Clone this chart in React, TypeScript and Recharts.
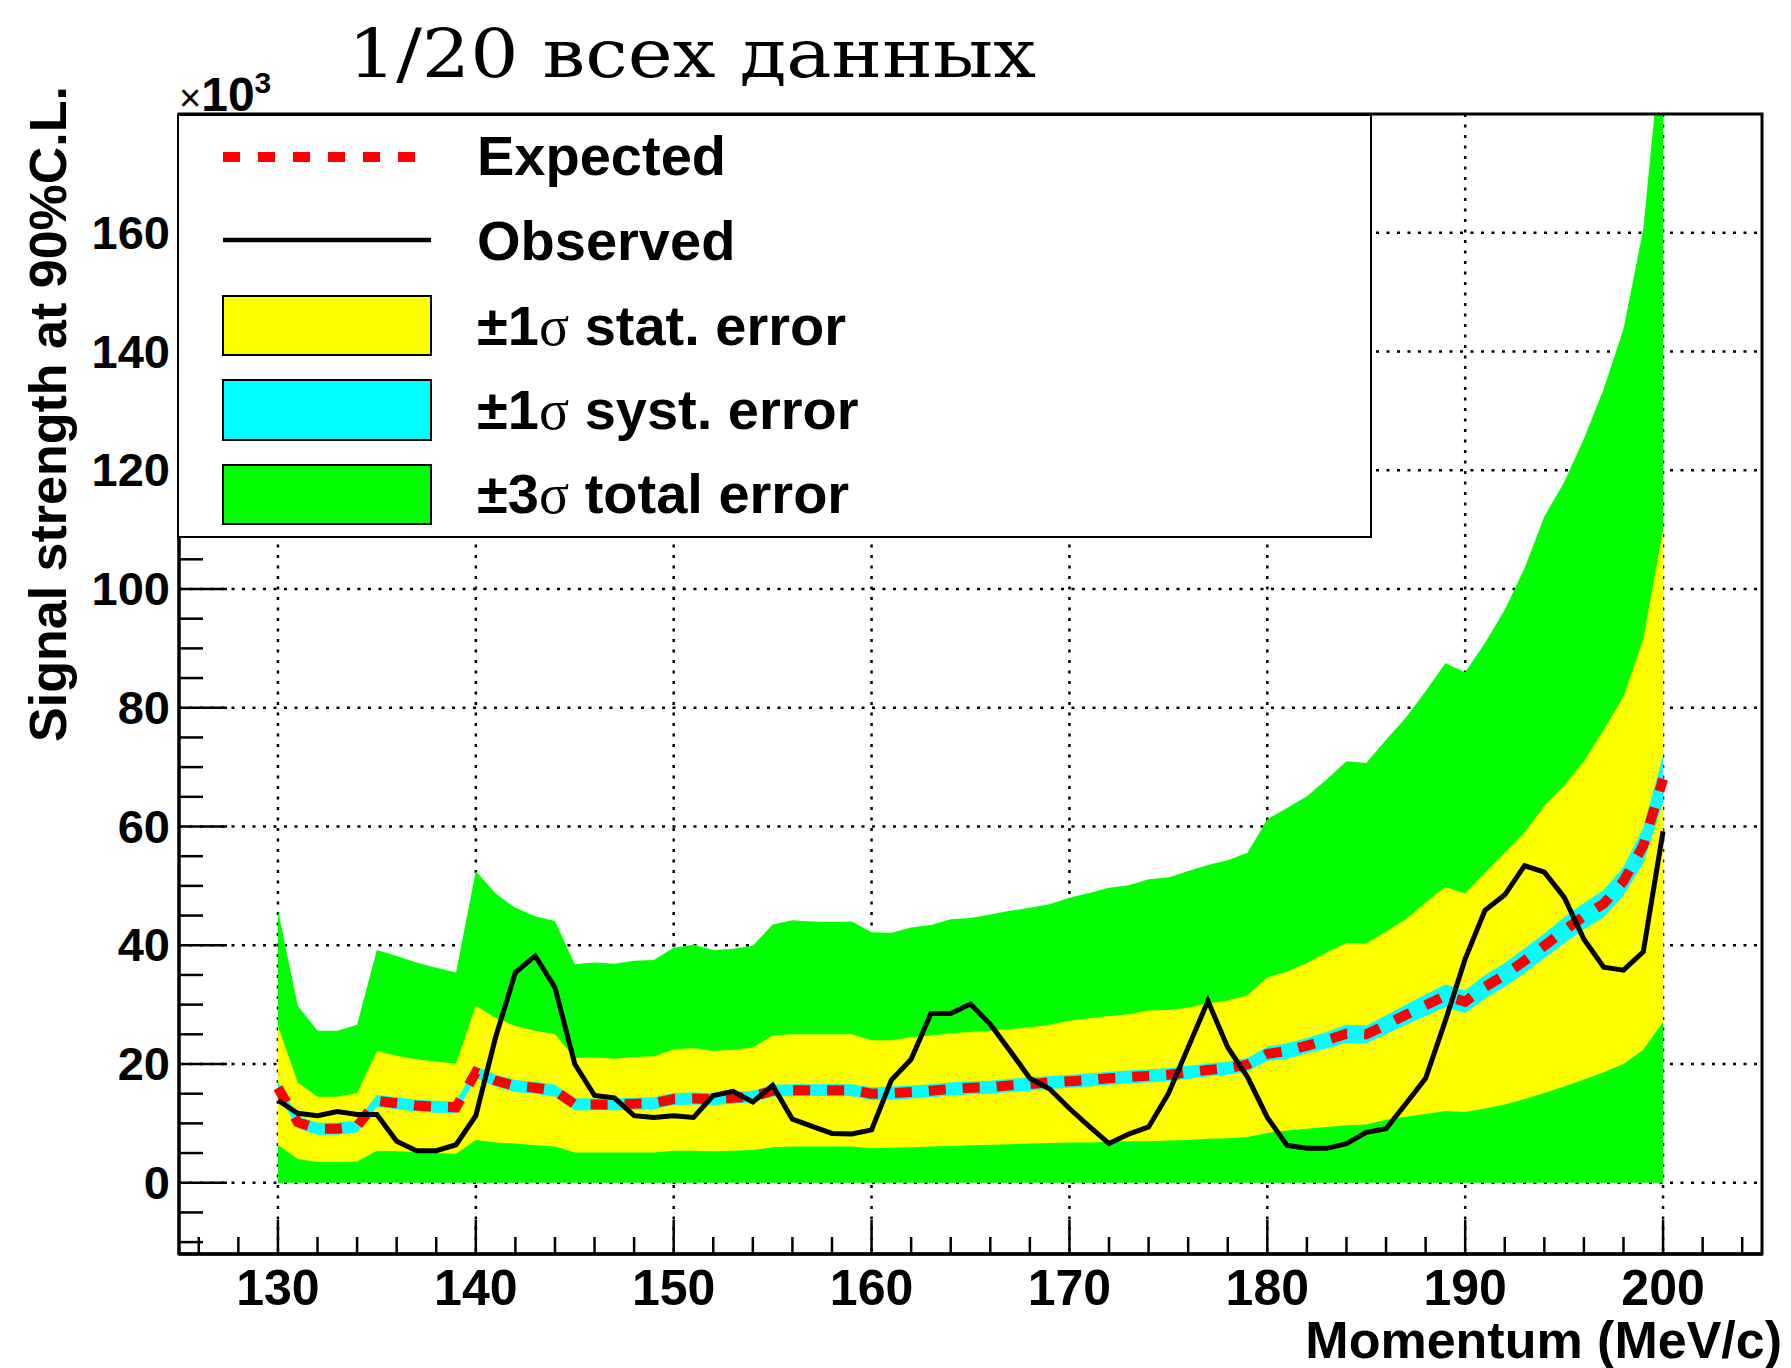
import React from "react";
import { ComposedChart, Area, Line, XAxis, YAxis, CartesianGrid, Legend, ReferenceArea } from "recharts";

// momentum points, MeV/c
const momentum = [
  130, 131, 132, 133, 134, 135, 136, 137, 138, 139,
  140, 141, 142, 143, 144, 145, 146, 147, 148, 149,
  150, 151, 152, 153, 154, 155, 156, 157, 158, 159,
  160, 161, 162, 163, 164, 165, 166, 167, 168, 169,
  170, 171, 172, 173, 174, 175, 176, 177, 178, 179,
  180, 181, 182, 183, 184, 185, 186, 187, 188, 189,
  190, 191, 192, 193, 194, 195, 196, 197, 198, 199,
  200,
];

// all values x10^3
const totalUp = [
  46.0, 29.8, 25.6, 25.6, 26.6, 39.2, 38.2, 37.1, 36.2, 35.4,
  52.5, 48.7, 46.3, 44.9, 44.1, 36.8, 37.1, 36.9, 37.4, 37.5,
  39.6, 40.1, 39.2, 39.4, 39.9, 43.5, 44.2, 44.0, 43.9, 44.0,
  42.2, 42.1, 43.0, 43.4, 44.4, 44.6, 45.2, 45.8, 46.3, 46.9,
  48.0, 48.8, 49.7, 50.1, 51.1, 51.4, 52.5, 53.5, 54.3, 55.6,
  61.2, 63.1, 65.1, 67.9, 71.0, 70.7, 74.6, 78.3, 82.8, 87.5,
  86.0, 90.9, 96.5, 103.5, 112.2, 118.0, 125.3, 133.7, 143.8, 160.6,
  195.0,
];

const statUp = [
  26.4, 16.9, 14.5, 14.5, 15.1, 22.2, 21.4, 20.8, 20.4, 20.1,
  29.8, 27.8, 26.4, 25.6, 25.0, 21.0, 21.1, 20.9, 21.2, 21.3,
  22.5, 22.7, 22.2, 22.4, 22.8, 24.8, 25.0, 25.0, 25.0, 25.0,
  24.0, 24.0, 24.5, 24.8, 25.2, 25.4, 25.6, 25.9, 26.2, 26.6,
  27.3, 27.7, 28.1, 28.4, 29.0, 29.1, 29.5, 30.2, 30.7, 31.6,
  34.6, 35.6, 37.0, 38.8, 40.4, 40.3, 42.3, 44.4, 47.2, 49.8,
  48.7, 52.2, 55.6, 59.0, 63.5, 66.9, 71.0, 76.3, 81.9, 91.6,
  110.0,
];

const statLo = [
  6.4, 4.0, 3.5, 3.5, 3.6, 5.4, 5.3, 5.2, 5.0, 4.9,
  7.2, 6.8, 6.6, 6.3, 6.1, 5.1, 5.1, 5.1, 5.1, 5.1,
  5.4, 5.4, 5.3, 5.4, 5.5, 6.0, 6.1, 6.1, 6.1, 6.1,
  5.8, 5.9, 6.0, 6.1, 6.2, 6.3, 6.4, 6.5, 6.6, 6.7,
  6.8, 6.8, 6.9, 7.0, 7.0, 7.1, 7.2, 7.4, 7.5, 7.7,
  8.4, 8.8, 9.1, 9.4, 9.7, 9.8, 10.6, 11.1, 11.6, 12.1,
  11.9, 12.5, 13.2, 14.1, 15.1, 16.2, 17.4, 18.6, 20.0, 22.4,
  27.1,
];

const expected = [
  16.0, 10.2, 9.1, 9.1, 9.5, 13.8, 13.4, 13.0, 12.8, 12.7,
  18.6, 17.2, 16.3, 16.0, 15.5, 13.2, 13.2, 13.2, 13.3, 13.4,
  14.1, 14.2, 14.1, 14.3, 14.5, 15.5, 15.6, 15.6, 15.6, 15.6,
  15.0, 15.1, 15.3, 15.5, 15.8, 16.0, 16.1, 16.4, 16.6, 16.9,
  17.1, 17.3, 17.6, 17.8, 18.0, 18.2, 18.6, 19.0, 19.3, 19.9,
  21.7, 22.2, 23.1, 24.0, 25.1, 25.0, 26.6, 28.3, 29.9, 31.5,
  30.5, 33.0, 35.0, 37.4, 39.9, 42.5, 44.9, 47.0, 50.8, 56.8,
  68.0,
];

// half width of the syst. band around the expected limit
const systHalf = [
  1.0, 1.0, 1.0, 1.0, 1.0, 1.0, 1.0, 1.0, 1.0, 1.0,
  1.0, 1.0, 1.0, 1.0, 1.0, 1.0, 1.0, 1.0, 1.0, 1.0,
  1.0, 1.0, 1.0, 1.0, 1.0, 1.0, 1.0, 1.0, 1.0, 1.0,
  1.1, 1.1, 1.1, 1.1, 1.1, 1.1, 1.1, 1.1, 1.1, 1.1,
  1.1, 1.1, 1.1, 1.1, 1.1, 1.1, 1.1, 1.1, 1.1, 1.1,
  1.2, 1.3, 1.3, 1.4, 1.5, 1.5, 1.6, 1.7, 1.8, 1.9,
  1.9, 2.0, 2.0, 2.1, 2.1, 2.2, 2.2, 2.3, 2.4, 3.0,
  4.0,
];

const observed = [
  13.9, 11.7, 11.3, 12.0, 11.5, 11.5, 7.0, 5.4, 5.4, 6.4,
  11.3, 24.5, 35.4, 38.2, 32.9, 20.0, 14.7, 14.3, 11.3, 11.0,
  11.3, 11.0, 14.7, 15.4, 13.6, 16.4, 10.7, 9.5, 8.3, 8.2,
  8.9, 17.3, 20.8, 28.5, 28.5, 30.1, 26.7, 22.2, 17.6, 15.8,
  12.5, 9.5, 6.6, 8.2, 9.4, 15.0, 22.8, 30.6, 22.8, 17.8,
  11.0, 6.3, 5.8, 5.8, 6.6, 8.5, 9.1, 13.3, 17.6, 27.3,
  37.7, 45.9, 48.5, 53.4, 52.3, 48.1, 41.0, 36.3, 35.8, 38.9,
  59.2,
];

const xTicks = [
  126, 128, 130, 132, 134, 136, 138, 140, 142, 144, 146, 148, 150, 152, 154,
  156, 158, 160, 162, 164, 166, 168, 170, 172, 174, 176, 178, 180, 182, 184,
  186, 188, 190, 192, 194, 196, 198, 200, 202, 204,
];
const yTicks = [
  -10, -5, 0, 5, 10, 15, 20, 25, 30, 35, 40, 45, 50, 55, 60, 65, 70, 75, 80, 85,
  90, 95, 100, 105, 110, 115, 120, 125, 130, 135, 140, 145, 150, 155, 160, 165,
  170, 175,
];
const gridX = [130, 140, 150, 160, 170, 180, 190, 200];
const gridY = [0, 20, 40, 60, 80, 100, 120, 140, 160];
const xRange = [125, 205];
const yRange = [-12, 180];

const data = momentum.map((m, i) => ({
  m,
  total: [0, totalUp[i]],
  stat: [statLo[i], statUp[i]],
  syst: [expected[i] - systHalf[i], expected[i] + systHalf[i]],
  expected: expected[i],
  observed: observed[i],
}));

const SANS = "'Liberation Sans', Arial, Helvetica, sans-serif";
const SERIF = "'Liberation Serif', 'Times New Roman', serif";

const renderXTick = (props: any) => {
  const { x, y, payload } = props;
  const v = payload.value;
  const major = v % 10 === 0;
  return (
    <g>
      <line x1={x} x2={x} y1={y} y2={y - (major ? 34 : 17)} stroke="#000" strokeWidth={2.5} />
      {major && (
        <text x={x} y={y + 51} textAnchor="middle" fontFamily={SANS} fontWeight="bold" fontSize={50} fill="#000">
          {v}
        </text>
      )}
    </g>
  );
};

const renderYTick = (props: any) => {
  const { x, y, payload } = props;
  const v = payload.value;
  const major = v % 20 === 0;
  return (
    <g>
      <line x1={x} x2={x + (major ? 48 : 24)} y1={y} y2={y} stroke="#000" strokeWidth={2.5} />
      {major && (
        <text x={x - 9} y={y + 16} textAnchor="end" fontFamily={SANS} fontWeight="bold" fontSize={47} fill="#000">
          {v}
        </text>
      )}
    </g>
  );
};

// y title plus the title and the x10^3 exponent above the frame
const YLabels = () => (
  <g>
    <text
      transform="translate(66, 86) rotate(-90)"
      textAnchor="end"
      fontFamily={SANS}
      fontWeight="bold"
      fontSize={52}
      fill="#000"
    >
      Signal strength at 90%C.L.
    </text>
    <text
      x={348}
      y={77}
      fontFamily="'DejaVu Serif', serif"
      fontSize={67}
      fill="#000"
      textLength={688}
      lengthAdjust="spacingAndGlyphs"
    >
      1/20 всех данных
    </text>
    <text x={179} y={111} fontFamily={SANS} fill="#000">
      <tspan fontSize={38}>×</tspan>
      <tspan fontSize={48} fontWeight="bold">10</tspan>
      <tspan fontSize={30} fontWeight="bold" dy={-18}>3</tspan>
    </text>
  </g>
);

const XTitle = () => (
  <text x={1782} y={1358} textAnchor="end" fontFamily={SANS} fontWeight="bold" fontSize={52} fill="#000">
    Momentum (MeV/c)
  </text>
);

const sigmaLabel = (n: string, rest: string) => (
  <>
    <tspan>±{n}</tspan>
    <tspan fontFamily={SERIF} fontWeight="normal">σ</tspan>
    <tspan> {rest}</tspan>
  </>
);

const renderLegend = () => (
  <svg width={1196} height={425} style={{ display: "block" }}>
    <rect x={1} y={1} width={1193} height={422} fill="#fff" stroke="#000" strokeWidth={2} />
    <line x1={46} x2={240} y1={43} y2={43} stroke="#ff0000" strokeWidth={10} strokeDasharray="17 18" />
    <line x1={46} x2={254} y1={126} y2={126} stroke="#000" strokeWidth={4.5} />
    <rect x={46} y={182} width={208} height={59} fill="#ffff00" stroke="#000" strokeWidth={2} />
    <rect x={46} y={266} width={208} height={60} fill="#00ffff" stroke="#000" strokeWidth={2} />
    <rect x={46} y={351} width={208} height={59} fill="#00ff00" stroke="#000" strokeWidth={2} />
    <g fontFamily={SANS} fontWeight="bold" fontSize={56} fill="#000">
      <text x={300} y={61}>Expected</text>
      <text x={300} y={146}>Observed</text>
      <text x={300} y={231}>{sigmaLabel("1", "stat. error")}</text>
      <text x={300} y={315}>{sigmaLabel("1", "syst. error")}</text>
      <text x={300} y={399}>{sigmaLabel("3", "total error")}</text>
    </g>
  </svg>
);

export default function App() {
  return (
    <div style={{ position: "absolute", left: 0, top: 0, background: "#fff" }}>
      <ComposedChart width={1791} height={1368} data={data} margin={{ top: 114, right: 29, bottom: 0, left: 0 }}>
        <CartesianGrid
          horizontalValues={gridY}
          verticalValues={gridX}
          stroke="#000"
          strokeWidth={2.5}
          strokeDasharray="3 7.5"
        />
        <XAxis
          dataKey="m"
          type="number"
          domain={xRange}
          ticks={xTicks}
          interval={0}
          tick={renderXTick}
          tickLine={false}
          tickSize={0}
          tickMargin={0}
          height={114}
          allowDataOverflow
          axisLine={{ stroke: "#000", strokeWidth: 3.5 }}
          label={{ content: () => <XTitle /> }}
        />
        <YAxis
          type="number"
          domain={yRange}
          ticks={yTicks}
          interval={0}
          tick={renderYTick}
          tickLine={false}
          tickSize={0}
          tickMargin={0}
          width={179}
          allowDataOverflow
          axisLine={{ stroke: "#000", strokeWidth: 3 }}
          label={{ content: () => <YLabels /> }}
        />
        <Area dataKey="total" type="linear" stroke="none" fill="#00ff00" fillOpacity={1} dot={false} activeDot={false} isAnimationActive={false} />
        <Area dataKey="stat" type="linear" stroke="none" fill="#ffff00" fillOpacity={1} dot={false} activeDot={false} isAnimationActive={false} />
        <Area dataKey="syst" type="linear" stroke="none" fill="#00ffff" fillOpacity={1} dot={false} activeDot={false} isAnimationActive={false} />
        <Line dataKey="expected" type="linear" stroke="#ff0000" strokeWidth={10} strokeDasharray="17 17" dot={false} activeDot={false} isAnimationActive={false} />
        <Line dataKey="observed" type="linear" stroke="#000" strokeWidth={5} strokeLinejoin="miter" dot={false} activeDot={false} isAnimationActive={false} />
        <ReferenceArea
          x1={xRange[0]}
          x2={xRange[1]}
          y1={yRange[0]}
          y2={yRange[1]}
          fill="none"
          fillOpacity={0}
          stroke="#000"
          strokeWidth={3}
          ifOverflow="visible"
        />
        <Legend
          layout="vertical"
          align="center"
          verticalAlign="middle"
          content={renderLegend}
          wrapperStyle={{ left: 177, top: 114, width: 1196, height: 425, margin: 0, padding: 0 }}
        />
      </ComposedChart>
    </div>
  );
}
